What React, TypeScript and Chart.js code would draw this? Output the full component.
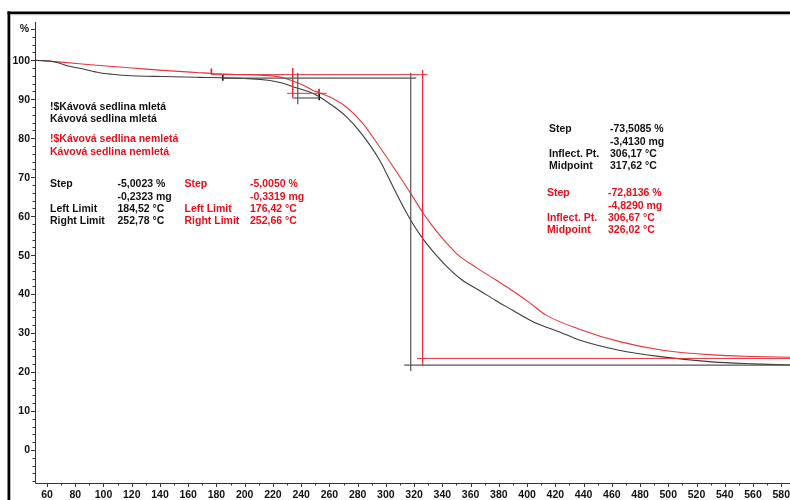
import { useEffect, useRef } from "react";
import { Chart, registerables } from "chart.js";

Chart.register(...registerables);

// Thermogravimetric curves: temperature (°C) vs. residual mass (%)
const tempMleta = [51.5, 65, 75, 85, 97, 106, 120, 142, 168, 182, 200, 213, 225, 236, 248, 252.8, 260, 272, 283.5, 295.5, 304.7, 309.7, 314.4, 318, 326, 335.6, 345, 354, 366, 378, 390, 397, 406.5, 423, 437, 465, 496, 531, 560, 586.2];
const massMleta = [100, 99.6, 98.5, 97.8, 96.8, 96.4, 96.0, 95.8, 95.6, 95.5, 95.3, 95.0, 94.3, 93.0, 91.5, 90.6, 88.9, 85.5, 80.8, 74.4, 67.8, 64.2, 61.0, 58.7, 54.3, 50.0, 46.4, 43.6, 41.0, 38.3, 35.8, 34.3, 32.5, 30.3, 28.2, 25.6, 23.9, 22.6, 22.1, 21.8];

const tempNemleta = [51.5, 70, 95, 120, 142, 168, 177, 200, 213, 225, 236, 243.6, 248, 252.7, 260, 272, 283.6, 295.5, 307.3, 319, 326, 331, 338, 345, 350, 364, 378, 390, 401.7, 413.5, 437, 465.5, 496, 531, 560, 586.2];
const massNemleta = [100, 99.5, 98.7, 98.0, 97.4, 96.8, 96.6, 96.3, 96.1, 95.7, 94.4, 93.2, 92.3, 91.7, 90.6, 88.0, 83.8, 77.8, 71.5, 65.0, 61.0, 58.4, 55.2, 52.3, 50.4, 46.8, 43.6, 40.8, 37.8, 34.6, 31.0, 27.8, 25.6, 24.4, 24.0, 23.8];

// Step-evaluation construction lines, as [t1, m1, t2, m2] in data units
const stepLinesMleta = [
  [184.5, 95.4, 321.5, 95.4],
  [233.9, 90.3, 252.8, 90.3],
  [237.6, 96.7, 237.6, 88.7],
  [317.6, 96.7, 317.6, 20.3],
  [313.0, 21.8, 586.2, 21.8],
];
const stepLinesNemleta = [
  [176.4, 96.3, 329.5, 96.3],
  [230.0, 91.5, 258.0, 91.5],
  [234.0, 98.0, 234.0, 90.5],
  [326.0, 97.4, 326.0, 21.8],
  [322.0, 23.5, 586.2, 23.5],
];

// Left/right limit markers
const limitsMleta = [[184.52, 95.5], [252.78, 90.5]];
const limitsNemleta = [[176.42, 97.1], [252.66, 91.9]];

// Axis ticks
const xMajorTicks = [60, 80, 100, 120, 140, 160, 180, 200, 220, 240, 260, 280, 300, 320, 340, 360, 380, 400, 420, 440, 460, 480, 500, 520, 540, 560, 580];
const yMajorTicks = [0, 10, 20, 30, 40, 50, 60, 70, 80, 90, 100];
const yUnitTick = 108;

const X_MIN = 51.5;
const X_MAX = 586.2;
const Y_MIN = -8.46;
const Y_MAX = 109.8;

const BLACK = "#111111";
const CURVE_BLACK = "#3c3c3c";
const RED = "#e5101c";
const CURVE_RED = "#e8343e";
const FONT = 'bold 10.5px "Liberation Sans", Arial, sans-serif';

const textBlocks: { text: string; x: number; y: number; color: string }[] = [
  { text: "!$Kávová sedlina mletá", x: 50, y: 107, color: BLACK },
  { text: "Kávová sedlina mletá", x: 50, y: 119, color: BLACK },
  { text: "!$Kávová sedlina nemletá", x: 50, y: 139, color: RED },
  { text: "Kávová sedlina nemletá", x: 50, y: 152.5, color: RED },

  { text: "Step", x: 50, y: 184, color: BLACK },
  { text: "-5,0023 %", x: 117.5, y: 184, color: BLACK },
  { text: "-0,2323 mg", x: 117.5, y: 197, color: BLACK },
  { text: "Left Limit", x: 50, y: 209, color: BLACK },
  { text: "184,52 °C", x: 117.5, y: 209, color: BLACK },
  { text: "Right Limit", x: 50, y: 221, color: BLACK },
  { text: "252,78 °C", x: 117.5, y: 221, color: BLACK },

  { text: "Step", x: 184.5, y: 184, color: RED },
  { text: "-5,0050 %", x: 250, y: 184, color: RED },
  { text: "-0,3319 mg", x: 250, y: 197, color: RED },
  { text: "Left Limit", x: 184.5, y: 209, color: RED },
  { text: "176,42 °C", x: 250, y: 209, color: RED },
  { text: "Right Limit", x: 184.5, y: 221, color: RED },
  { text: "252,66 °C", x: 250, y: 221, color: RED },

  { text: "Step", x: 549, y: 129, color: BLACK },
  { text: "-73,5085 %", x: 610, y: 129, color: BLACK },
  { text: "-3,4130 mg", x: 610, y: 142, color: BLACK },
  { text: "Inflect. Pt.", x: 549, y: 154, color: BLACK },
  { text: "306,17 °C", x: 610, y: 154, color: BLACK },
  { text: "Midpoint", x: 549, y: 166.5, color: BLACK },
  { text: "317,62 °C", x: 610, y: 166.5, color: BLACK },

  { text: "Step", x: 547, y: 193, color: RED },
  { text: "-72,8136 %", x: 608, y: 193, color: RED },
  { text: "-4,8290 mg", x: 608, y: 206.5, color: RED },
  { text: "Inflect. Pt.", x: 547, y: 218, color: RED },
  { text: "306,67 °C", x: 608, y: 218, color: RED },
  { text: "Midpoint", x: 547, y: 230.5, color: RED },
  { text: "326,02 °C", x: 608, y: 230.5, color: RED },
];

const frameAndAxes = {
  id: "frameAndAxes",
  afterDraw(chart: any) {
    const { ctx, chartArea, scales } = chart;
    const xs = scales.x;
    const ys = scales.y;
    ctx.save();

    // outer frame (top and left edges)
    ctx.fillStyle = "#000";
    ctx.fillRect(7.5, 11.5, 790, 2.8);
    ctx.fillRect(7.5, 11.5, 2.8, 500);
    ctx.fillStyle = "#c8c8c8";
    ctx.fillRect(10.3, 14.3, 790, 1);

    // axis lines
    ctx.strokeStyle = "#333";
    ctx.lineWidth = 1;
    ctx.beginPath();
    ctx.moveTo(chartArea.left + 0.5, chartArea.top);
    ctx.lineTo(chartArea.left + 0.5, chartArea.bottom + 0.5);
    ctx.lineTo(chartArea.right, chartArea.bottom + 0.5);
    ctx.stroke();

    // y ticks (minor every 2, major every 10)
    ctx.beginPath();
    for (let v = -8; v <= 108; v += 2) {
      const py = Math.round(ys.getPixelForValue(v)) + 0.5;
      const major = v % 10 === 0 || v === yUnitTick;
      ctx.moveTo(chartArea.left, py);
      ctx.lineTo(chartArea.left - (major ? 4 : 2.5), py);
    }
    // x ticks (minor every 10, major every 20)
    for (let t = 60; t <= 580; t += 10) {
      const px = Math.round(xs.getPixelForValue(t)) + 0.5;
      const major = t % 20 === 0;
      ctx.moveTo(px, chartArea.bottom);
      ctx.lineTo(px, chartArea.bottom + (major ? 4 : 2.5));
    }
    ctx.stroke();

    // tick labels
    ctx.font = FONT;
    ctx.fillStyle = BLACK;
    ctx.textAlign = "right";
    ctx.textBaseline = "middle";
    for (const v of yMajorTicks) {
      ctx.fillText(String(v), chartArea.left - 5, ys.getPixelForValue(v) + 0.5);
    }
    ctx.fillText("%", chartArea.left - 6, ys.getPixelForValue(yUnitTick) + 0.5);
    ctx.textAlign = "center";
    for (const t of xMajorTicks) {
      ctx.fillText(String(t), xs.getPixelForValue(t), chartArea.bottom + 12);
    }

    // evaluation texts
    ctx.textAlign = "left";
    for (const b of textBlocks) {
      ctx.fillStyle = b.color;
      ctx.fillText(b.text, b.x, b.y);
    }
    ctx.restore();
  },
};

function curve(temps: number[], mass: number[], color: string) {
  return {
    type: "line" as const,
    data: temps.map((t, i) => ({ x: t, y: mass[i] })),
    borderColor: color,
    borderWidth: 1.1,
    pointRadius: 0,
    fill: false,
    cubicInterpolationMode: "monotone" as const,
  };
}

function segments(lines: number[][], color: string, width: number) {
  return lines.map((l) => ({
    type: "line" as const,
    data: [
      { x: l[0], y: l[1] },
      { x: l[2], y: l[3] },
    ],
    borderColor: color,
    borderWidth: width,
    pointRadius: 0,
    fill: false,
    tension: 0,
  }));
}

function markers(points: number[][], color: string) {
  return {
    type: "line" as const,
    data: points.map((p) => ({ x: p[0], y: p[1] })),
    showLine: false,
    pointStyle: "line" as const,
    rotation: 90,
    pointRadius: 3,
    borderColor: color,
    borderWidth: 1.6,
  };
}

export default function App() {
  const canvasRef = useRef<HTMLCanvasElement | null>(null);

  useEffect(() => {
    if (!canvasRef.current) return;
    const chart = new Chart(canvasRef.current, {
      type: "line",
      data: {
        datasets: [
          ...segments(stepLinesMleta, "#555555", 1.2),
          ...segments(stepLinesNemleta, "#e8303a", 1),
          curve(tempMleta, massMleta, CURVE_BLACK),
          curve(tempNemleta, massNemleta, CURVE_RED),
          markers(limitsMleta, "#111111"),
          markers(limitsNemleta, RED),
        ] as any,
      },
      options: {
        animation: false,
        responsive: false,
        devicePixelRatio: 1,
        layout: { autoPadding: false, padding: { left: 35, right: 0, top: 22, bottom: 17 } },
        plugins: { legend: { display: false }, tooltip: { enabled: false } },
        scales: {
          x: { type: "linear", min: X_MIN, max: X_MAX, display: false },
          y: { type: "linear", min: Y_MIN, max: Y_MAX, display: false },
        },
      },
      plugins: [frameAndAxes],
    });
    return () => chart.destroy();
  }, []);

  return (
    <div style={{ position: "fixed", left: 0, top: 0, width: 790, height: 500, background: "#fff" }}>
      <canvas ref={canvasRef} width={790} height={500} />
    </div>
  );
}
